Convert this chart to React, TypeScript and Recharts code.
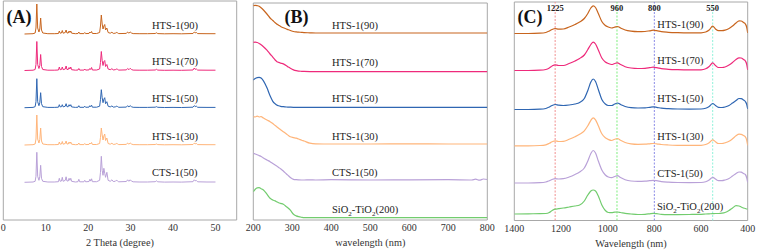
import React from 'react';
import { LineChart, Line, XAxis, YAxis, ReferenceArea, ReferenceLine } from 'recharts';

const FONT = 'Liberation Serif, Times New Roman, DejaVu Serif, serif';

// ---------- shared ----------
const SAMPLE_NAMES = ['HTS-1(90)', 'HTS-1(70)', 'HTS-1(50)', 'HTS-1(30)', 'CTS-1(50)'];
const SAMPLE_COLORS = ['#c8651e', '#ee2a7b', '#2f66b2', '#ffb57a', '#b9a1d8', '#72cc6e'];

// ---------- (A) XRD ----------
const XRD_THETA = [5, 7.0, 7.5, 7.7, 7.9, 8.1, 8.4, 8.6, 8.8, 9.0, 9.3, 10.5, 12.0, 13.0, 13.2, 13.4, 13.7, 13.9, 14.1, 14.6, 14.8, 15.0, 15.3, 15.5, 15.7, 15.9, 16.1, 17.0, 17.6, 17.8, 18.0, 19.0, 19.2, 19.4, 20.2, 20.4, 20.6, 20.8, 21.0, 22.0, 22.7, 22.9, 23.1, 23.3, 23.5, 23.7, 23.9, 24.1, 24.4, 24.7, 25.2, 25.6, 25.9, 26.4, 26.6, 26.9, 27.2, 29.0, 29.3, 29.6, 29.9, 30.2, 30.6, 32.0, 34.0, 35.8, 36.1, 36.4, 38.0, 40.0, 42.0, 44.7, 45.0, 45.2, 45.5, 45.8, 48.0, 50.0];
const XRD_HTS90 = [0, 0.3, 1, 6, 30, 6, 2, 5, 16, 4, 1, 0.3, 0.3, 0.5, 3, 0.8, 1, 3.5, 0.8, 1.5, 4, 1, 1, 3, 1.5, 3, 0.8, 0.3, 0.5, 2, 0.4, 0.4, 1.5, 0.4, 0.6, 2, 1, 2.5, 0.5, 0.5, 1.5, 8, 19, 10, 5, 8, 9.5, 4, 6, 1.5, 0.8, 1.8, 0.6, 0.8, 1.5, 1.2, 0.4, 0.6, 2, 0.8, 2, 1, 0.4, 0.3, 0.3, 0.5, 1.2, 0.4, 0.2, 0.3, 0.2, 0.5, 2, 1.2, 1.5, 0.4, 0.3, 0.3];
const XRD_HTS70 = [0, 0.3, 1, 6, 29, 6, 2, 5, 16, 4, 1, 0.3, 0.3, 0.5, 3.5, 0.8, 1, 3.5, 0.8, 1.5, 4.5, 1, 1, 3, 1.5, 3.5, 0.8, 0.3, 0.5, 2, 0.4, 0.4, 1.5, 0.4, 0.6, 2, 1, 3, 0.5, 0.5, 1.5, 8, 19, 10, 5, 9, 10, 4, 6, 1.5, 0.8, 1.8, 0.6, 0.8, 1.5, 1.2, 0.4, 0.6, 2, 0.8, 2.2, 1, 0.4, 0.3, 0.3, 0.5, 1.2, 0.4, 0.2, 0.3, 0.2, 0.5, 2.5, 1.2, 1.5, 0.4, 0.3, 0.3];
const XRD_HTS50 = [0, 0.3, 1, 6, 29, 6, 2, 5, 15, 4, 1, 0.3, 0.3, 0.5, 3, 0.8, 1, 3, 0.8, 1.5, 4, 1, 1, 3, 1.5, 3, 0.8, 0.3, 0.5, 2, 0.4, 0.4, 1.5, 0.4, 0.6, 2, 1, 2.5, 0.5, 0.5, 1.5, 8, 18, 10, 5, 8.5, 10, 4, 6, 1.5, 0.8, 1.8, 0.6, 0.8, 1.5, 1.2, 0.4, 0.6, 2, 0.8, 2, 1, 0.4, 0.3, 0.3, 0.5, 1, 0.4, 0.2, 0.3, 0.2, 0.5, 2, 1.2, 1.5, 0.4, 0.3, 0.3];
const XRD_HTS30 = [0, 0.3, 1, 6, 30, 6, 2, 5.5, 17, 4, 1, 0.3, 0.3, 0.5, 3, 0.8, 1, 3.5, 0.8, 1.5, 4, 1, 1, 3, 1.5, 3, 0.8, 0.3, 0.5, 2, 0.4, 0.4, 1.5, 0.4, 0.6, 2, 1, 2.5, 0.5, 0.5, 1.5, 7.5, 17, 10, 5, 9, 11, 4.5, 7, 1.5, 0.8, 1.8, 0.6, 0.8, 1.5, 1.2, 0.4, 0.6, 2, 0.8, 2, 1, 0.4, 0.3, 0.3, 0.5, 1, 0.4, 0.2, 0.3, 0.2, 0.5, 1.8, 1.2, 1.5, 0.4, 0.3, 0.3];
const XRD_CTS50 = [0, 0.3, 1, 6, 30, 6, 2, 5.5, 17, 4, 1, 0.3, 0.3, 0.6, 4, 1, 1.3, 5, 1, 2, 5.5, 1.3, 1.3, 4, 2, 4, 1, 0.3, 0.6, 3, 0.5, 0.5, 2, 0.5, 0.8, 3, 1.2, 3.5, 0.6, 0.6, 2, 10, 26, 12, 7, 14, 9, 5, 10, 2, 1, 2.5, 0.8, 1, 2, 1.5, 0.5, 0.8, 2.5, 1, 2.5, 1.2, 0.5, 0.3, 0.3, 0.6, 1.5, 0.5, 0.2, 0.3, 0.2, 0.6, 2.5, 1.5, 1.8, 0.5, 0.3, 0.3];
const XRD_OFFSETS = [186, 149.5, 112.3, 75, 37.7];
const XRD_TICKS = [0, 10, 20, 30, 40, 50];

// ---------- (B) UV-vis ----------
const UV_WL = [200, 205, 210, 215, 220, 226, 235, 243, 250, 256, 260, 265, 270, 277, 285, 290, 295, 303, 310, 316, 324, 330, 345, 360, 400, 500, 600, 700, 760, 770, 780, 790, 800];
const UV_HTS90 = [27.3, 27.6, 27.3, 26.7, 25.2, 23, 19, 15, 12.5, 10.3, 9, 7.8, 6.6, 5.2, 4, 3.2, 2.5, 1.5, 1.1, 0.9, 0.6, 0.4, 0.2, 0, 0, 0, 0, 0, 0, 0, 0, 0, 0];
const UV_HTS70 = [29.4, 29.6, 29.2, 28.3, 27, 25, 21.5, 17.7, 14.5, 11.7, 10.3, 9.3, 8.6, 7.8, 6, 4.6, 3.4, 1.8, 1, 0.6, 0.4, 0.3, 0.1, 0, 0, 0, 0, 0, 0, 0, 0, 0, 0];
const UV_HTS50 = [27.3, 28.8, 29.7, 30, 29.2, 26.5, 19.5, 11.5, 6, 3.5, 2.3, 1.5, 1, 0.6, 0.3, 0.2, 0.1, 0, 0, 0, 0, 0, 0, 0, 0, 0, 0, 0, 0, 0, 0, 0, 0];
const UV_HTS30 = [27.3, 27, 27.8, 27, 27.4, 26, 24, 22.3, 20.5, 18.5, 17.3, 15.8, 14.3, 12.3, 10, 8.5, 7.2, 6.4, 5.8, 5, 3.8, 3, 0.8, 0.2, 0, 0, 0.1, 0, 0, 0, 0, 0, 0];
const UV_CTS50 = [26.7, 26, 25.3, 24.4, 23.5, 22, 20, 18.3, 16.5, 15, 14, 12.6, 11.2, 9, 6, 4.3, 2.6, 0.7, 0.3, 0.1, 0, 0, 0.2, 0, 0.3, 0, 0.2, 0.3, 0, 0.8, -0.2, 1, 0.5];
const UV_SIO2TIO2 = [26, 28.5, 29.8, 30, 29, 27.7, 23.5, 19.4, 17.7, 16.8, 16, 15, 14.3, 13.4, 11, 9.4, 7.5, 3.4, 1.8, 1, 0.4, 0.1, 0, 0, 0, 0, 0, 0, 0, 0, 0, 0, 0];
const UV_OFFSETS = [187, 148.3, 112.7, 76, 40, 2.3];
const UV_TICKS = [200, 300, 400, 500, 600, 700, 800];

// ---------- (C) FT-IR ----------
const IR_WN = [1400, 1340, 1290, 1265, 1250, 1238, 1225, 1210, 1190, 1165, 1140, 1120, 1100, 1085, 1072, 1062, 1052, 1040, 1025, 1010, 997, 983, 970, 958, 945, 925, 900, 870, 840, 820, 805, 790, 770, 740, 700, 650, 600, 580, 565, 550, 538, 525, 510, 497, 480, 465, 450, 437, 428, 418, 410, 404, 400];
const IR_HTS90 = [0, 0, 0.3, 1, 2.5, 4, 5, 4.3, 4.5, 6.5, 9, 11.5, 15, 20, 25.5, 27.7, 26, 20, 12, 8, 6.5, 5.5, 6.3, 7, 5.5, 3.5, 2.3, 1.8, 2, 2.7, 3.3, 2.8, 1.8, 1.2, 0.8, 0.6, 0.7, 1.5, 3.5, 7.3, 4.5, 2.8, 2.8, 3.3, 5, 7.5, 10.5, 12.7, 12.5, 11, 9.5, 6, 0.5];
const IR_HTS70 = [0, 0, 0.3, 1, 2.5, 4.5, 5.7, 5, 5, 7, 9.5, 12, 15.5, 21, 26, 28.3, 26.5, 20.5, 12.5, 8.5, 7, 6, 7, 7.7, 6, 3.8, 2.5, 2, 2.2, 2.8, 3.3, 2.8, 1.8, 1.2, 0.8, 0.6, 0.7, 1.7, 4, 7.7, 5, 3, 3, 3.5, 5.5, 8, 11, 12.7, 12.5, 11, 9.5, 6, 0.5];
const IR_HTS50 = [0, 0, 0.3, 1, 2.5, 4, 5, 4.3, 4, 4.5, 5.5, 7, 11, 19, 27.5, 30.5, 28, 20, 10, 5.5, 4, 4, 5.5, 6.5, 5, 3, 1.8, 1.5, 1.6, 2.2, 2.7, 2.2, 1.3, 0.8, 0.5, 0.4, 0.5, 1.3, 3, 6, 4, 2.2, 2, 2.5, 4, 6.5, 9, 11, 10.8, 9.5, 8, 5, 0.5];
const IR_HTS30 = [0, 0, 0.3, 1, 2.5, 4, 5, 4.3, 4.5, 6.5, 9, 11.5, 15, 20, 25.5, 28, 26, 20, 12, 8, 6.3, 5.3, 6.5, 7.3, 5.5, 3.3, 2, 1.5, 1.6, 2, 2.3, 2, 1.3, 0.8, 0.5, 0.4, 0.5, 1.3, 3, 6, 4, 2.3, 2.3, 3, 4.5, 7, 10, 11.7, 11.5, 10.3, 9, 5.5, 0.5];
const IR_CTS50 = [0, 0, 0.3, 1, 2.3, 3.5, 4.3, 4, 4.3, 6, 8.5, 11, 15, 22, 29.5, 32.5, 30, 22, 13, 8, 6, 5.3, 6.5, 7.3, 5.5, 3.3, 2, 1.6, 1.8, 2.3, 2.7, 2.3, 1.4, 0.8, 0.5, 0.4, 0.5, 1.3, 3, 5.7, 4, 2.3, 2.3, 3, 4.5, 7, 9.5, 11, 10.8, 9.5, 8.5, 5, 0.5];
const IR_SIO2TIO2 = [0, 0.2, 0.3, 0.5, 1.5, 3.5, 4.8, 5.3, 6, 7, 8, 9, 13, 19, 23, 24, 23, 18, 9, 3.5, 1.5, 1.3, 1.8, 2, 1.5, 0.6, 0, -0.5, -0.3, 0.2, 0.6, 0.3, -0.3, -0.6, -0.6, -0.5, -0.3, 0, 0.2, 0.4, 0.5, 0.5, 0.8, 1.5, 3.5, 6, 8.3, 8, 7, 6, 5.5, 5, 5];
const IR_OFFSETS = [187, 150, 111, 74.7, 37.5, 6.5];
const IR_TICKS = [1400, 1200, 1000, 800, 600, 400];
const IR_MARKERS = [1225, 960, 800, 550];
const IR_MARKER_COLORS = ['#f29090', '#7fee7f', '#8a8ae6', '#8ff2da'];

// ---------- table builders ----------
function buildRows(xs: number[], series: number[][], offsets: number[]) {
  return xs.map((x, i) => {
    const row: Record<string, number> = { x };
    series.forEach((s, k) => {
      row['s' + k] = s[i] + offsets[k];
    });
    return row;
  });
}

const xrdRows = buildRows(XRD_THETA, [XRD_HTS90, XRD_HTS70, XRD_HTS50, XRD_HTS30, XRD_CTS50], XRD_OFFSETS);
const uvRows = buildRows(UV_WL, [UV_HTS90, UV_HTS70, UV_HTS50, UV_HTS30, UV_CTS50, UV_SIO2TIO2], UV_OFFSETS);
const irRows = buildRows(IR_WN, [IR_HTS90, IR_HTS70, IR_HTS50, IR_HTS30, IR_CTS50, IR_SIO2TIO2], IR_OFFSETS);

const tickStyle = { fontSize: 10, fill: '#333', fontFamily: FONT };
const titleStyle = { fontSize: 10.3, fill: '#333', fontFamily: FONT };
const FRAME = '#a8a8a8';

function SiO2Label({ x, y }: { x: number; y: number }) {
  return (
    <text x={x} y={y} fontSize={10.5} fontFamily={FONT} fill="#222">
      SiO<tspan dy={3} fontSize={7}>2</tspan>
      <tspan dy={-3}>-TiO</tspan>
      <tspan dy={3} fontSize={7}>2</tspan>
      <tspan dy={-3}>(200)</tspan>
    </text>
  );
}

function Overlay() {
  const aY = [29, 65, 102, 140, 176];
  const bY = [29, 66, 102, 140, 176];
  const cY = [27.5, 64, 102, 139.6, 176.6];
  return (
    <svg width={757} height={251} style={{ position: 'absolute', left: 0, top: 0, pointerEvents: 'none' }}>
      <text x={6.5} y={22.5} fontSize={18} fontWeight="bold" fontFamily={FONT} fill="#111">(A)</text>
      <text x={284.5} y={22.5} fontSize={18} fontWeight="bold" fontFamily={FONT} fill="#111">(B)</text>
      <text x={517.5} y={22.5} fontSize={18} fontWeight="bold" fontFamily={FONT} fill="#111">(C)</text>
      {SAMPLE_NAMES.map((n, i) => (
        <text key={'a' + i} x={152} y={aY[i]} fontSize={10.5} fontFamily={FONT} fill="#222">{n}</text>
      ))}
      {SAMPLE_NAMES.map((n, i) => (
        <text key={'b' + i} x={332} y={bY[i]} fontSize={10.5} fontFamily={FONT} fill="#222">{n}</text>
      ))}
      <SiO2Label x={332} y={213} />
      {SAMPLE_NAMES.map((n, i) => (
        <text key={'c' + i} x={657.3} y={cY[i]} fontSize={10.5} fontFamily={FONT} fill="#222">{n}</text>
      ))}
      <SiO2Label x={657} y={209.5} />
    </svg>
  );
}

export default function App() {
  return (
    <div style={{ position: 'absolute', left: 0, top: 0, width: 757, height: 251, background: '#fff', overflow: 'hidden', fontFamily: FONT }}>
      {/* (A) */}
      <div style={{ position: 'absolute', left: 0, top: 0 }}>
        <LineChart width={240} height={251} data={xrdRows} margin={{ top: 1, right: 3.3, bottom: 0, left: 3.3 }}>
          <XAxis dataKey="x" type="number" domain={[0, 55]} ticks={XRD_TICKS} interval={0} allowDataOverflow
            axisLine={false} tickLine={false} tickSize={2} tickMargin={2} height={31} tick={tickStyle}
            label={{ value: '2 Theta (degree)', position: 'insideBottom', offset: 5, style: titleStyle }} />
          <YAxis hide type="number" domain={[0, 219]} allowDataOverflow />
          <ReferenceArea x1={0} x2={55} y1={0} y2={219} fill="none" fillOpacity={0} stroke={FRAME} strokeWidth={1} ifOverflow="visible" />
          {SAMPLE_NAMES.map((n, k) => (
            <Line key={n} dataKey={'s' + k} name={n} type="linear" stroke={SAMPLE_COLORS[k]} strokeWidth={1} dot={false} isAnimationActive={false} />
          ))}
        </LineChart>
      </div>
      {/* (B) */}
      <div style={{ position: 'absolute', left: 240, top: 0 }}>
        <LineChart width={255} height={251} data={uvRows} margin={{ top: 3, right: 7.7, bottom: 0, left: 13.3 }}>
          <XAxis dataKey="x" type="number" domain={[200, 800]} ticks={UV_TICKS} interval={0} allowDataOverflow
            axisLine={false} tickLine={false} tickSize={2} tickMargin={2} height={31} tick={tickStyle}
            label={{ value: 'wavelength (nm)', position: 'insideBottom', offset: 5, style: titleStyle }} />
          <YAxis hide type="number" domain={[0, 217]} allowDataOverflow />
          <ReferenceArea x1={200} x2={800} y1={0} y2={217} fill="none" fillOpacity={0} stroke={FRAME} strokeWidth={1} ifOverflow="visible" />
          {[...SAMPLE_NAMES, 'SiO2-TiO2(200)'].map((n, k) => (
            <Line key={n} dataKey={'s' + k} name={n} type="monotone" stroke={SAMPLE_COLORS[k]} strokeWidth={1.2} dot={false} isAnimationActive={false} />
          ))}
        </LineChart>
      </div>
      {/* (C) */}
      <div style={{ position: 'absolute', left: 495, top: 0 }}>
        <LineChart width={262} height={251} data={irRows} margin={{ top: 2, right: 9.3, bottom: 0, left: 19.3 }}>
          <XAxis dataKey="x" type="number" domain={[400, 1400]} reversed ticks={IR_TICKS} interval={0} allowDataOverflow
            axisLine={false} tickLine={false} tickSize={2} tickMargin={2} height={30.5} tick={tickStyle}
            label={{ value: 'Wavelength (nm)', position: 'insideBottom', offset: 4.5, style: titleStyle }} />
          <YAxis hide type="number" domain={[0, 218.5]} allowDataOverflow />
          <ReferenceArea x1={400} x2={1400} y1={0} y2={218.5} fill="none" fillOpacity={0} stroke={FRAME} strokeWidth={1} ifOverflow="visible" />
          {IR_MARKERS.map((m, i) => (
            <ReferenceLine key={m} x={m} stroke={IR_MARKER_COLORS[i]} strokeWidth={1} strokeDasharray="2 1.5"
              label={{ value: String(m), position: 'insideTop', offset: 3, fill: '#222', fontSize: 8.5, fontWeight: 'bold', fontFamily: FONT }} />
          ))}
          {[...SAMPLE_NAMES, 'SiO2-TiO2(200)'].map((n, k) => (
            <Line key={n} dataKey={'s' + k} name={n} type="monotone" stroke={SAMPLE_COLORS[k]} strokeWidth={1.2} dot={false} isAnimationActive={false} />
          ))}
        </LineChart>
      </div>
      <Overlay />
    </div>
  );
}
